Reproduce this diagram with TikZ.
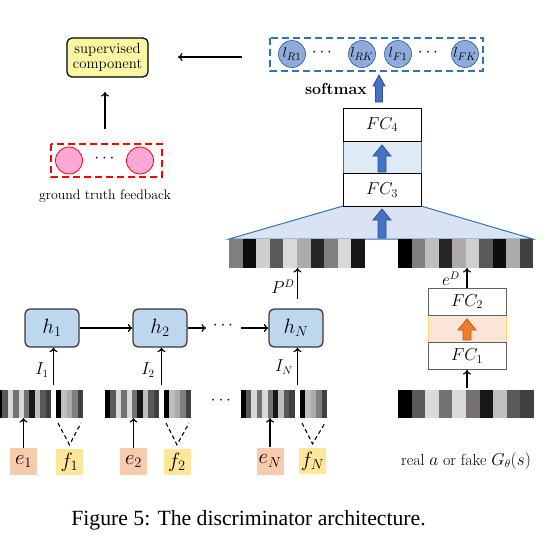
\documentclass[tikz,border=0pt]{standalone}
\usepackage{fontspec}
\newfontfamily\capfont{Liberation Serif}
\usetikzlibrary{arrows.meta,calc}
\definecolor{supY}{HTML}{FBF6A2}
\definecolor{pinkF}{HTML}{FFA8D6}
\definecolor{redD}{HTML}{FF0000}
\definecolor{blueD}{HTML}{2E75B6}
\definecolor{circB}{HTML}{8FAADC}
\definecolor{circBd}{HTML}{2F5597}
\definecolor{arrB}{HTML}{4472C4}
\definecolor{arrBd}{HTML}{2F528F}
\definecolor{midB}{HTML}{DEEBF7}
\definecolor{trapB}{HTML}{DAE3F3}
\definecolor{hFill}{HTML}{BDD7EE}
\definecolor{hBorder}{HTML}{3A3A3A}
\definecolor{fcGray}{HTML}{606060}
\definecolor{midO}{HTML}{FBE5D6}
\definecolor{midOb}{HTML}{FFD966}
\definecolor{arrO}{HTML}{ED7D31}
\definecolor{arrOd}{HTML}{C55A11}
\definecolor{eFill}{HTML}{F8CBAD}
\definecolor{fFill}{HTML}{FFE699}
\definecolor{gK}{HTML}{000000}
\definecolor{gOD}{HTML}{0D0D0D}
\definecolor{gSS}{HTML}{171717}
\definecolor{gTS}{HTML}{262626}
\definecolor{gFO}{HTML}{404040}
\definecolor{gFN}{HTML}{595959}
\definecolor{gSX}{HTML}{767171}
\definecolor{gSF}{HTML}{7F7F7F}
\definecolor{gAE}{HTML}{AEAAAA}
\definecolor{gBF}{HTML}{BFBFBF}
\definecolor{gDO}{HTML}{D0CECE}
\definecolor{gDN}{HTML}{D9D9D9}
\newcommand{\stripebar}[7]{%
  \foreach \cc [count=\ii from 0] in {#6} {\fill[\cc] ({#2+\ii*#4},{#3}) rectangle ++(#4,#5);}
  \node[inner sep=0,outer sep=0,minimum width={#4*#7},minimum height={#5}] (#1) at ({#2+#4*#7/2},{#3+#5/2}) {};
}
\newcommand{\blockarrow}[7]{% fill, draw, x, ybot, ytop, shaft, head ; head length 11
  \filldraw[fill=#1,draw=#2,line width=0.8pt,line join=miter]
    ({#3-#6/2},#4) -- ({#3-#6/2},{#5+11}) -- ({#3-#7/2},{#5+11}) -- (#3,#5)
    -- ({#3+#7/2},{#5+11}) -- ({#3+#6/2},{#5+11}) -- ({#3+#6/2},#4) -- cycle;
}
\tikzset{
  every node/.style={font=\fontsize{16}{19}\selectfont},
  arr/.style={-{To[length=4.5pt,width=8pt]}, line width=1.2pt},
  rbox/.style={rounded corners=5pt, draw=hBorder, line width=1.3pt, fill=hFill, minimum width=54pt, minimum height=38pt, inner sep=0, font=\fontsize{20}{22}\selectfont},
  fcbox/.style={draw=black, line width=0.9pt, fill=white, minimum width=78pt, minimum height=33pt, inner sep=0, font=\fontsize{17}{20}\selectfont},
  fcboxb/.style={draw=fcGray, line width=1pt, fill=white, minimum width=78pt, minimum height=27pt, inner sep=0, font=\fontsize{17}{20}\selectfont},
  pcirc/.style={circle, fill=pinkF, draw=redD, line width=0.8pt, minimum size=27pt, inner sep=0},
  bcirc/.style={circle, fill=circB, draw=circBd, line width=0.6pt, minimum size=27pt, inner sep=0, font=\fontsize{15}{18}\selectfont},
  ebox/.style={fill=eFill, minimum width=27pt, minimum height=27pt, inner sep=0, font=\fontsize{20}{22}\selectfont},
  fbox/.style={fill=fFill, minimum width=27pt, minimum height=26pt, inner sep=0, font=\fontsize{20}{22}\selectfont},
  vdash/.style={dashed, dash pattern=on 4pt off 3pt, line width=1.1pt}
}
\begin{document}
\begin{tikzpicture}[x=1pt,y=-1pt]
\useasboundingbox (0,0) rectangle (558,544);

% ---------- top left: supervised component ----------
\node[rounded corners=5pt, draw=black, line width=1.2pt, fill=supY, minimum width=81pt, minimum height=39pt, inner sep=0, align=center, font=\fontsize{14.8}{14.5}\selectfont] (sup) at (107.5,57.5) {supervised\\component};
\draw[redD, line width=2.4pt, dash pattern=on 7pt off 4pt] (51,144) rectangle (162,177);
\node[pcirc] (p1) at (69,160.5) {};
\node[pcirc] (p2) at (140,160.5) {};
\node (pd) at (104.5,159) {$\cdots$};
\node[font=\fontsize{13.8}{16}\selectfont] (gtf) at (105,196) {ground truth feedback};
\coordinate (pstart) at (105,129);
\coordinate (pend) at (105,92);
\draw[arr] (pstart) -- (pend);

% ---------- top right: softmax outputs ----------
\draw[blueD, line width=2.4pt, dash pattern=on 7pt off 4pt] (270,38) rectangle (483,71);
\node[bcirc] (lr1) at (292,54) {$l_{R1}$};
\node (d1) at (322,53) {$\cdots$};
\node[bcirc] (lrk) at (362,54) {$l_{RK}$};
\node[bcirc] (lf1) at (398,54) {$l_{F1}$};
\node (d2) at (428,53) {$\cdots$};
\node[bcirc] (lfk) at (465,54) {$l_{FK}$};
\coordinate (sstart) at (242,57);
\coordinate (send) at (178,57);
\draw[arr] (sstart) -- (send);
\node[font=\bfseries\fontsize{16}{19}\selectfont] (smx) at (336,89) {softmax};
\blockarrow{arrB}{arrBd}{379}{102}{75}{7}{12}

% ---------- FC3 / FC4 stack ----------
\filldraw[fill=trapB, draw=blueD, line width=1pt] (343,206) -- (421,206) -- (533,239) -- (229,239) -- cycle;
\node[draw=blueD, line width=0.9pt, fill=midB, minimum width=78pt, minimum height=33pt, inner sep=0] (mid) at (382,157.5) {};
\node[fcbox] (fc4) at (382,124.5) {$FC_4$};
\node[fcbox] (fc3) at (382,190) {$FC_3$};
\blockarrow{arrB}{arrBd}{382}{172}{145}{8}{18}
\blockarrow{arrB}{arrBd}{382}{238}{209}{8}{18}

% ---------- top bars ----------
\stripebar{pbar}{229}{239}{13.6}{29}{gSF,gOD,gDO,gFN,gDN,gAE,gTS,gSF,gDN,gSS}{10}
\stripebar{ebar}{398}{239}{13.5}{29}{gK,gSF,gBF,gTS,gAE,gDO,gFN,gOD,gAE,gFO}{10}

% ---------- FC1 / FC2 stack ----------
\node[draw=midOb, line width=1pt, fill=midO, minimum width=78pt, minimum height=27pt, inner sep=0] (omid) at (467,328.5) {};
\node[fcboxb] (fc2) at (467,301.5) {$FC_2$};
\node[fcboxb] (fc1) at (467,356) {$FC_1$};
\blockarrow{arrO}{arrOd}{467}{340}{319}{8}{18}
\draw[arr] (fc2.north) -- (fc2.north |- ebar.south);
\node (eD) at (451,279) {$e^D$};
\stripebar{rbar}{398}{390}{13.6}{28}{gK,gFN,gDN,gSX,gDN,gSX,gSS,gBF,gFN,gFO}{10}
\coordinate (rstart) at (467,388);
\draw[arr] (rstart) -- (fc1.south);
\node (real) at (466,461) {real $a$ or fake $G_\theta(s)$};

% ---------- recurrent chain ----------
\node[rbox] (h1) at (52,328) {$h_1$};
\node[rbox] (h2) at (160,328) {$h_2$};
\node[rbox] (hN) at (296,328) {$h_N$};
\draw[arr] (h1.east) -- (h2.west);
\coordinate (hd1) at (206,328);
\coordinate (hd2) at (241,328);
\node (hdots) at (223,326) {$\cdots$};
\draw[arr] (h2.east) -- (hd1);
\draw[arr] (hd2) -- (hN.west);
\coordinate (pdstart) at (297.5,299);
\draw[arr] (pdstart) -- (pdstart |- pbar.south);
\node (PD) at (283,287) {$P^D$};

% ---------- input bars ----------
\stripebar{e1bar}{-3}{390}{5.4}{28}{gK,gFN,gDN,gSX,gDN,gSX,gSS,gBF,gFN,gFO}{10}
\stripebar{f1bar}{56}{390}{5.4}{28}{gK,gBF,gAE,gSF,gFO}{5}
\stripebar{e2bar}{105}{390}{5.4}{28}{gK,gFN,gDN,gSX,gDN,gSX,gSS,gBF,gFN,gFO}{10}
\stripebar{f2bar}{164}{390}{5.4}{28}{gK,gBF,gAE,gSF,gFO}{5}
\stripebar{eNbar}{240.5}{390}{5.4}{28}{gK,gFN,gDN,gSX,gDN,gSX,gSS,gBF,gFN,gFO}{10}
\stripebar{fNbar}{300}{390}{5.4}{28}{gK,gBF,gAE,gSF,gFO}{5}
\node (bdots) at (221,401) {$\cdots$};

\coordinate (g1) at (53.5,385);
\coordinate (g2) at (161.5,385);
\coordinate (gN) at (297.5,385);
\draw[arr] (g1) -- (g1 |- h1.south);
\draw[arr] (g2) -- (g2 |- h2.south);
\draw[arr] (gN) -- (gN |- hN.south);
\node (I1) at (42,370) {$I_1$};
\node (I2) at (148,370) {$I_2$};
\node (IN) at (284,367) {$I_N$};

\node[ebox] (e1) at (23.5,461.5) {$e_1$};
\node[fbox] (f1) at (69.5,462) {$f_1$};
\node[ebox] (e2) at (133.5,461.5) {$e_2$};
\node[fbox] (f2) at (177,462) {$f_2$};
\node[ebox] (eN) at (270,461) {$e_N$};
\node[fbox] (fN) at (312.5,461) {$f_N$};
\draw[arr] (e1.north) -- (e1.north |- e1bar.south);
\draw[arr] (e2.north) -- (e2.north |- e2bar.south);
\draw[arr] (eN.north) -- (eN.north |- eNbar.south);
\foreach \b/\f in {f1bar/f1,f2bar/f2,fNbar/fN}{
  \coordinate (\f tip) at ($(\f.north)+(0,-4)$);
  \draw[vdash] ($(\b.south west)+(2,5)$) -- (\f tip) -- ($(\b.south east)+(-2,5)$);
}

% ---------- caption ----------
\node[anchor=base, font=\capfont\fontsize{21.7}{24}\selectfont] (cap) at (248.5,525) {Figure 5: The discriminator architecture.};
\end{tikzpicture}
\end{document}
